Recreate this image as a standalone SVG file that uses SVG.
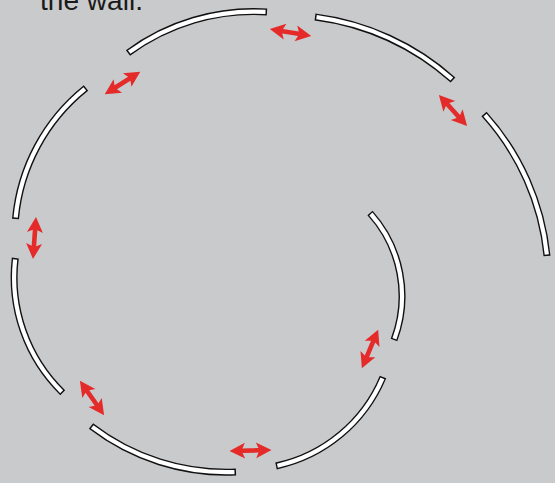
<svg xmlns="http://www.w3.org/2000/svg" xmlns:xlink="http://www.w3.org/1999/xlink" width="555" height="483" viewBox="0 0 555 483">
<style>
.wo{fill:none;stroke:#111;stroke-width:7;stroke-linecap:butt}
.wi{fill:none;stroke:#fff;stroke-width:4.2;stroke-linecap:butt;stroke-dasharray:0 1 98 1}
.ar{fill:#e52a2a}
.t{font-family:"Liberation Sans",Arial,sans-serif;font-size:28px;fill:#1a1a1a}
</style>
<defs>
<path id="arr" d="M21,0 L5.5,-8 L8,-2.3 L-8,-2.3 L-5.5,-8 L-21,0 L-5.5,8 L-8,2.3 L8,2.3 L5.5,8 Z"/>
<path id="p1" pathLength="100" d="M62.7,392.7 A161,161 0 0 1 15.3,258"/>
<path id="p2" pathLength="100" d="M15.5,219 A189,189 0 0 1 86,88"/>
<path id="p3" pathLength="100" d="M128,53 A211,211 0 0 1 267,12"/>
<path id="p4" pathLength="100" d="M315,17 A256,256 0 0 1 453,80"/>
<path id="p5" pathLength="100" d="M484,114 A248,248 0 0 1 547,256"/>
<path id="p6" pathLength="100" d="M370,213 A124,124 0 0 1 394,340"/>
<path id="p7" pathLength="100" d="M383,377 A150,150 0 0 1 276,466"/>
<path id="p8" pathLength="100" d="M236,472 A222,222 0 0 1 91,426"/>
</defs>
<rect width="555" height="483" fill="#c9cacc"/>
<text class="t" x="40" y="9.5" textLength="103" lengthAdjust="spacingAndGlyphs">the wall.</text>
<g id="walls">
<g id="wall1"><use xlink:href="#p1" class="wo"/><use xlink:href="#p1" class="wi"/></g>
<g id="wall2"><use xlink:href="#p2" class="wo"/><use xlink:href="#p2" class="wi"/></g>
<g id="wall3"><use xlink:href="#p3" class="wo"/><use xlink:href="#p3" class="wi"/></g>
<g id="wall4"><use xlink:href="#p4" class="wo"/><use xlink:href="#p4" class="wi"/></g>
<g id="wall5"><use xlink:href="#p5" class="wo"/><use xlink:href="#p5" class="wi"/></g>
<g id="wall6"><use xlink:href="#p6" class="wo"/><use xlink:href="#p6" class="wi"/></g>
<g id="wall7"><use xlink:href="#p7" class="wo"/><use xlink:href="#p7" class="wi"/></g>
<g id="wall8"><use xlink:href="#p8" class="wo"/><use xlink:href="#p8" class="wi"/></g>
</g>
<g id="arrows" class="ar">
<use xlink:href="#arr" transform="translate(290.5,32.5) rotate(9.7)"/>
<use xlink:href="#arr" transform="translate(122.5,83) rotate(-32.2)"/>
<use xlink:href="#arr" transform="translate(453,110.5) rotate(47.9)"/>
<use xlink:href="#arr" transform="translate(34.5,238) rotate(94.1)"/>
<use xlink:href="#arr" transform="translate(370,349) rotate(112.8)"/>
<use xlink:href="#arr" transform="translate(92,398) rotate(54.8)"/>
<use xlink:href="#arr" transform="translate(250.5,450.5) rotate(-1.3)"/>
</g>
</svg>
